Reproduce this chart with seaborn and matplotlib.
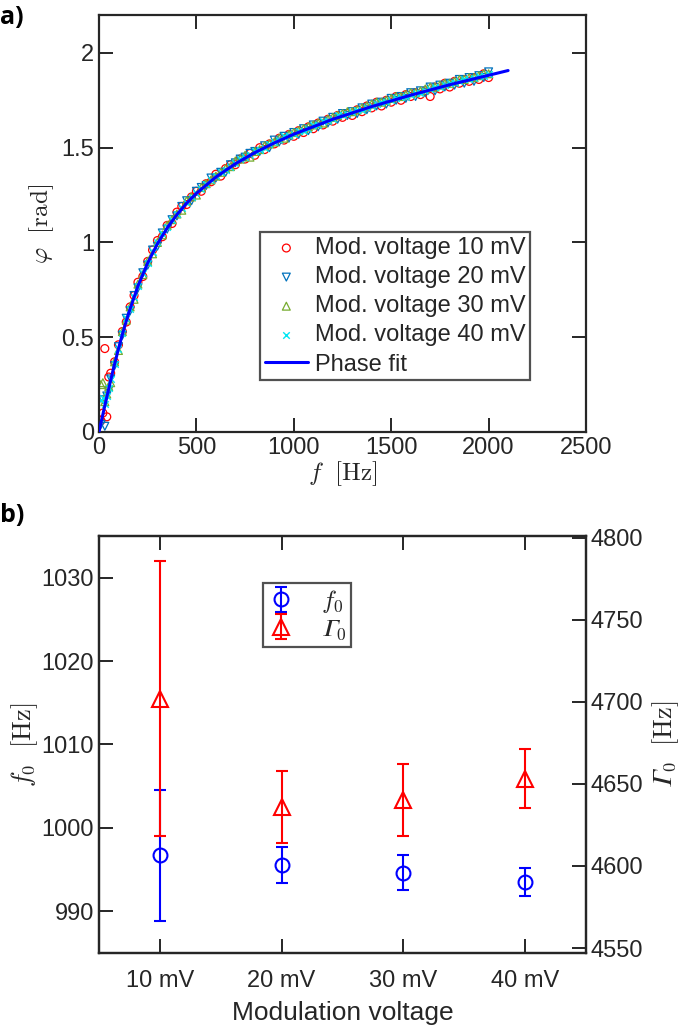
import numpy as np
import pandas as pd
import matplotlib
matplotlib.use("Agg")
import matplotlib.pyplot as plt
from matplotlib.ticker import FuncFormatter
import seaborn as sns

# ---------- panel a) phase data ----------
freq_hz = [10, 20, 30, 40, 50, 60, 80, 100, 120, 140, 160, 180, 200,
           225, 250, 275, 300, 325, 350, 375, 400, 425, 450, 475, 500,
           525, 550, 575, 600, 625, 650, 675, 700, 725, 750, 775, 800,
           825, 850, 875, 900, 925, 950, 975, 1000, 1025, 1050, 1075, 1100,
           1125, 1150, 1175, 1200, 1225, 1250, 1275, 1300, 1325, 1350, 1375, 1400,
           1425, 1450, 1475, 1500, 1525, 1550, 1575, 1600, 1625, 1650, 1675, 1700,
           1725, 1750, 1775, 1800, 1825, 1850, 1875, 1900, 1925, 1950, 1975, 2000]

phase_10mv = [0.06, 0.10, 0.44, 0.08, 0.29, 0.31, 0.37, 0.46, 0.53, 0.58, 0.66, 0.72, 0.79,
              0.82, 0.90, 0.96, 1.01, 1.03, 1.09, 1.10, 1.16, 1.19, 1.20, 1.24, 1.27,
              1.27, 1.31, 1.32, 1.36, 1.35, 1.39, 1.41, 1.41, 1.44, 1.44, 1.47, 1.46,
              1.50, 1.49, 1.52, 1.52, 1.55, 1.54, 1.57, 1.56, 1.59, 1.58, 1.61, 1.60,
              1.63, 1.62, 1.65, 1.64, 1.67, 1.66, 1.68, 1.67, 1.70, 1.69, 1.72, 1.71,
              1.74, 1.72, 1.75, 1.74, 1.77, 1.75, 1.78, 1.77, 1.79, 1.78, 1.80, 1.77,
              1.82, 1.81, 1.84, 1.82, 1.85, 1.84, 1.86, 1.85, 1.87, 1.86, 1.89, 1.87]
phase_20mv = [0.04, 0.17, 0.03, 0.19, 0.22, 0.28, 0.35, 0.45, 0.51, 0.60, 0.64, 0.72, 0.76,
              0.84, 0.88, 0.96, 0.98, 1.05, 1.07, 1.12, 1.14, 1.19, 1.22, 1.22, 1.27,
              1.29, 1.30, 1.34, 1.34, 1.37, 1.37, 1.41, 1.42, 1.44, 1.45, 1.47, 1.48,
              1.48, 1.51, 1.50, 1.54, 1.53, 1.56, 1.55, 1.58, 1.57, 1.60, 1.59, 1.62,
              1.61, 1.64, 1.63, 1.66, 1.65, 1.68, 1.67, 1.69, 1.68, 1.71, 1.70, 1.73,
              1.72, 1.74, 1.73, 1.76, 1.75, 1.77, 1.76, 1.79, 1.77, 1.80, 1.79, 1.82,
              1.80, 1.83, 1.82, 1.84, 1.83, 1.86, 1.84, 1.87, 1.85, 1.88, 1.87, 1.90]
phase_30mv = [0.25, 0.26, 0.16, 0.20, 0.24, 0.26, 0.37, 0.43, 0.53, 0.59, 0.66, 0.70, 0.78,
              0.83, 0.90, 0.94, 1.00, 1.04, 1.09, 1.12, 1.15, 1.17, 1.22, 1.24, 1.25,
              1.29, 1.31, 1.33, 1.35, 1.37, 1.39, 1.40, 1.43, 1.44, 1.46, 1.45, 1.48,
              1.49, 1.51, 1.52, 1.53, 1.55, 1.55, 1.57, 1.58, 1.59, 1.60, 1.61, 1.62,
              1.63, 1.63, 1.65, 1.66, 1.67, 1.68, 1.69, 1.69, 1.70, 1.71, 1.72, 1.73,
              1.74, 1.74, 1.75, 1.76, 1.77, 1.77, 1.78, 1.79, 1.79, 1.80, 1.81, 1.82,
              1.82, 1.83, 1.84, 1.84, 1.85, 1.86, 1.86, 1.87, 1.87, 1.88, 1.89, 1.89]
phase_40mv = [0.17, 0.18, 0.15, 0.19, 0.23, 0.28, 0.36, 0.44, 0.52, 0.60, 0.65, 0.71, 0.77,
              0.84, 0.89, 0.95, 1.00, 1.05, 1.08, 1.12, 1.15, 1.18, 1.21, 1.24, 1.26,
              1.28, 1.31, 1.33, 1.35, 1.37, 1.38, 1.40, 1.42, 1.44, 1.45, 1.46, 1.48,
              1.49, 1.50, 1.52, 1.53, 1.54, 1.56, 1.56, 1.57, 1.59, 1.59, 1.60, 1.62,
              1.62, 1.64, 1.64, 1.65, 1.67, 1.67, 1.68, 1.69, 1.70, 1.70, 1.71, 1.72,
              1.73, 1.74, 1.74, 1.75, 1.76, 1.77, 1.77, 1.78, 1.79, 1.79, 1.80, 1.81,
              1.82, 1.82, 1.83, 1.84, 1.84, 1.85, 1.86, 1.86, 1.87, 1.88, 1.88, 1.89]

fit_freq = [0, 10, 25, 50, 75, 100, 125, 150, 200, 250, 300, 350, 400, 450, 500,
            600, 700, 800, 900, 1000, 1200, 1400, 1600, 1800, 2000, 2100]
fit_phase = [0, 0.047, 0.116, 0.229, 0.337, 0.439, 0.533, 0.620, 0.770, 0.892, 0.993,
             1.076, 1.147, 1.207, 1.259, 1.345, 1.415, 1.474, 1.525, 1.571, 1.650,
             1.717, 1.777, 1.832, 1.882, 1.907]

series_labels = ["Mod. voltage 10 mV", "Mod. voltage 20 mV",
                 "Mod. voltage 30 mV", "Mod. voltage 40 mV"]

# ---------- panel b) fit parameters ----------
voltages = ["10 mV", "20 mV", "30 mV", "40 mV"]
f0_hz = [996.7, 995.5, 994.6, 993.5]
f0_err = [7.9, 2.15, 2.1, 1.7]
gamma0_hz = [4702, 4636, 4640, 4653]
gamma0_err = [84, 22, 22, 18]

# ---------- style ----------
sns.set_style("ticks")
plt.rcParams["font.family"] = ["Liberation Sans", "DejaVu Sans"]
plt.rcParams["mathtext.fontset"] = "cm"
plt.rcParams["axes.linewidth"] = 1.6
plt.rcParams["text.color"] = "#262626"
plt.rcParams["axes.labelcolor"] = "#262626"

GAMMA = "\U0001D6E4"  # italic capital gamma

colors = [(1.0, 0.0, 0.0), (0.0, 0.447, 0.741), (0.466, 0.674, 0.188), (0.0, 0.9, 0.95)]
markers = ["o", "v", "^", "x"]
phases = [phase_10mv, phase_20mv, phase_30mv, phase_40mv]

fig = plt.figure(figsize=(6.85, 10.28), dpi=100)
ax1 = fig.add_axes([0.1445, 0.5798, 0.711, 0.4056])
ax2 = fig.add_axes([0.1445, 0.0730, 0.711, 0.4056])


def style_ticks(ax, **kw):
    ax.tick_params(direction="in", length=10, width=1.4, labelsize=17,
                   labelcolor="#262626", **kw)


# panel a
for lab, ph, c, m in zip(series_labels, phases, colors, markers):
    df = pd.DataFrame({"f": freq_hz, "phi": ph})
    if m == "x":
        sns.scatterplot(data=df, x="f", y="phi", marker=m, s=22, color=c,
                        linewidth=1.0, label=lab, ax=ax1, zorder=2)
    else:
        sns.scatterplot(data=df, x="f", y="phi", marker=m, s=32, color=c,
                        linewidth=0.9, label=lab, ax=ax1, zorder=2)
        coll = ax1.collections[-1]
        coll.set_facecolor("none")
        coll.set_edgecolor(c)

fit_df = pd.DataFrame({"f": fit_freq, "phi": fit_phase})
sns.lineplot(data=fit_df, x="f", y="phi", color=(0, 0, 1), linewidth=2.2,
             label="Phase fit", ax=ax1, zorder=3, sort=False)

ax1.set_xlim(0, 2500)
ax1.set_ylim(0, 2.2)
ax1.set_xticks([0, 500, 1000, 1500, 2000, 2500])
ax1.set_yticks([0, 0.5, 1, 1.5, 2])
ax1.yaxis.set_major_formatter(FuncFormatter(lambda v, p: "%g" % v))
style_ticks(ax1, top=True, right=True)
ax1.set_xlabel(r"$f\ \ [\mathrm{Hz}]$", fontsize=18, labelpad=0)
ax1.set_ylabel(r"$\varphi\ \ [\mathrm{rad}]$", fontsize=18, labelpad=4)

leg1 = ax1.legend(loc="lower right", bbox_to_anchor=(0.885, 0.124), fontsize=17,
                  frameon=True, fancybox=False, edgecolor="#262626",
                  labelspacing=0.3, handlelength=1.8, handletextpad=0.3,
                  borderpad=0.2, borderaxespad=0, markerscale=1.0)
leg1.get_frame().set_linewidth(1.6)

# panel b
pos = np.arange(1, len(voltages) + 1)
ax2r = ax2.twinx()
h1 = ax2.errorbar(pos, f0_hz, yerr=f0_err, fmt="o", color=(0, 0, 1), mfc="none",
                  ms=10, mew=1.5, elinewidth=1.5, capsize=4, capthick=1.5,
                  label=r"$f_0$")
h2 = ax2r.errorbar(pos, gamma0_hz, yerr=gamma0_err, fmt="^", color=(1, 0, 0), mfc="none",
                   ms=11, mew=1.5, elinewidth=1.5, capsize=4, capthick=1.5,
                   label="$" + GAMMA + "_0$")

ax2.set_xlim(0.5, 4.5)
ax2.set_ylim(985, 1035)
ax2r.set_ylim(4547, 4801)
ax2.set_xticks(pos)
ax2.set_xticklabels(voltages)
ax2.set_yticks([990, 1000, 1010, 1020, 1030])
ax2r.set_yticks([4550, 4600, 4650, 4700, 4750, 4800])
style_ticks(ax2, top=True, right=False)
style_ticks(ax2r)
ax2.tick_params(axis="x", pad=12)
ax2.set_xlabel("Modulation voltage", fontsize=19, labelpad=7)
ax2.set_ylabel(r"$f_0\ \ [\mathrm{Hz}]$", fontsize=19, labelpad=1)
ax2r.set_ylabel("$" + GAMMA + r"_0\ \ [\mathrm{Hz}]$", fontsize=19, rotation=90,
                labelpad=5)
for sp in ax2r.spines.values():
    sp.set_linewidth(1.6)

leg2 = ax2r.legend(handles=[h1, h2], loc="upper left", bbox_to_anchor=(0.337, 0.887),
                   fontsize=18, frameon=True, fancybox=False, edgecolor="#262626",
                   labelspacing=0.05, handlelength=1.0, handletextpad=1.1,
                   borderpad=0.2, borderaxespad=0)
leg2.get_frame().set_linewidth(1.6)

fig.text(0.0, 0.995, "a)", fontsize=18, fontweight="bold", family="Open Sans",
         va="top", ha="left", color="black")
fig.text(0.0, 0.511, "b)", fontsize=18, fontweight="bold", family="Open Sans",
         va="top", ha="left", color="black")

fig.savefig("out.png", dpi=100)
